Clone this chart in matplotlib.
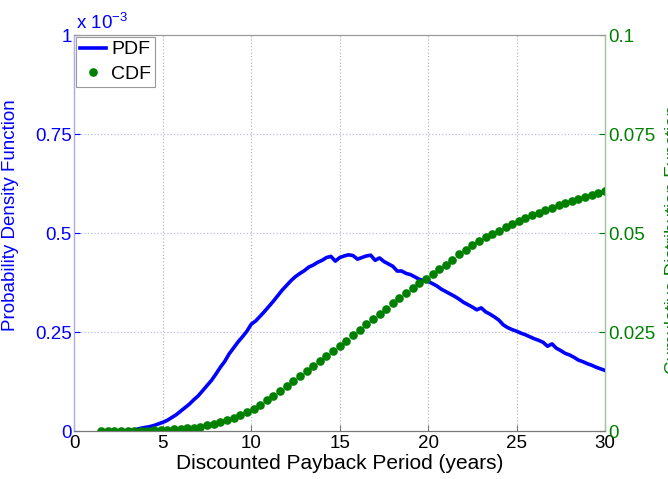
import numpy as np
import matplotlib
matplotlib.use("Agg")
import matplotlib.pyplot as plt

plt.rcParams['font.family'] = ['Liberation Sans', 'DejaVu Sans']
plt.rcParams['mathtext.default'] = 'regular'

# PDF (units of 1e-3), sampled every 0.25 years from 1.5
pdf_start, pdf_step = 1.5, 0.25
pdf = [0, 0, 0, 0, 0, 0, 0.001, 0.002, 0.004, 0.007,
       0.009, 0.011, 0.014, 0.018, 0.022, 0.027, 0.034, 0.041, 0.050, 0.059,
       0.068, 0.079, 0.089, 0.102, 0.115, 0.128, 0.144, 0.161, 0.176, 0.195,
       0.210, 0.225, 0.238, 0.252, 0.270, 0.278, 0.290, 0.302, 0.315, 0.328,
       0.342, 0.356, 0.368, 0.380, 0.390, 0.398, 0.405, 0.414, 0.419, 0.426,
       0.431, 0.438, 0.441, 0.429, 0.438, 0.442, 0.445, 0.443, 0.434, 0.438,
       0.442, 0.444, 0.431, 0.437, 0.428, 0.422, 0.416, 0.404, 0.404, 0.398,
       0.395, 0.389, 0.383, 0.380, 0.378, 0.372, 0.366, 0.358, 0.352, 0.346,
       0.340, 0.333, 0.325, 0.319, 0.313, 0.306, 0.311, 0.301, 0.295, 0.288,
       0.280, 0.268, 0.261, 0.256, 0.252, 0.247, 0.243, 0.238, 0.233, 0.229,
       0.224, 0.214, 0.220, 0.209, 0.203, 0.196, 0.192, 0.186, 0.179, 0.175,
       0.170, 0.166, 0.161, 0.157, 0.153]

# CDF, sampled every 0.375 years from 1.5
cdf_start, cdf_step = 1.5, 0.375
cdf = [0.0000, 0.0000, 0.0000, 0.0000, 0.0000, 0.0001, 0.0001, 0.0001, 0.0002, 0.0003,
       0.0003, 0.0004, 0.0005, 0.0007, 0.0008, 0.0011, 0.0014, 0.0018, 0.0022, 0.0028,
       0.0034, 0.0041, 0.0047, 0.0055, 0.0066, 0.0078, 0.0089, 0.0101, 0.0113, 0.0126,
       0.0139, 0.0152, 0.0165, 0.0178, 0.0190, 0.0202, 0.0215, 0.0228, 0.0242, 0.0256,
       0.0269, 0.0282, 0.0295, 0.0308, 0.0322, 0.0335, 0.0349, 0.0361, 0.0373, 0.0385,
       0.0397, 0.0408, 0.0419, 0.0433, 0.0446, 0.0458, 0.0469, 0.0480, 0.0489, 0.0498,
       0.0506, 0.0514, 0.0522, 0.0530, 0.0538, 0.0545, 0.0551, 0.0557, 0.0564, 0.0570,
       0.0576, 0.0582, 0.0587, 0.0592, 0.0597, 0.0602, 0.0607]

xticks = [0, 5, 10, 15, 20, 25, 30]
lticks = [0, 0.25, 0.5, 0.75, 1]
lticklabels = ['0', '0.25', '0.5', '0.75', '1']
rticks = [0, 0.025, 0.05, 0.075, 0.1]
rticklabels = ['0', '0.025', '0.05', '0.075', '0.1']

x_pdf = pdf_start + pdf_step * np.arange(len(pdf))
x_cdf = cdf_start + cdf_step * np.arange(len(cdf))

blue = '#0000ff'
green = '#008000'
fs = 13.5

fig = plt.figure(figsize=(6.68, 4.79), dpi=100)
ax = fig.add_axes([0.1115, 0.1002, 0.7942, 0.8267])
ax2 = ax.twinx()

l1, = ax.plot(x_pdf, pdf, color=blue, lw=2.6, label='PDF')
l2, = ax2.plot(x_cdf, cdf, 'o', color=green, ms=5.2, mec=green, label='CDF')

ax.set_xlim(0, 30)
ax.set_ylim(0, 1)
ax2.set_ylim(0, 0.1)
ax.set_xticks(xticks)
ax.set_xticklabels([str(t) for t in xticks], fontsize=fs)
ax.set_yticks(lticks)
ax.set_yticklabels(lticklabels, fontsize=fs, color=blue)
ax2.set_yticks(rticks)
ax2.set_yticklabels(rticklabels, fontsize=fs, color=green)

ax.tick_params(axis='x', direction='in', length=4, color='#777777', pad=3)
ax.tick_params(axis='y', direction='in', length=4, color=blue, pad=2)
ax2.tick_params(axis='y', direction='in', length=4, color=green, pad=2)

# grid lines
for xv in xticks[1:-1]:
    ax.axvline(xv, color='#bbbbbb', ls=':', lw=0.9, zorder=0)
for yv in lticks[1:-1]:
    ax.axhline(yv, color='#bbbbff', ls=':', lw=0.9, zorder=0)

for a in (ax, ax2):
    a.spines['top'].set_color('#999999')
    a.spines['bottom'].set_color('#777777')
ax2.spines['left'].set_color('#aaaaff')
ax2.spines['right'].set_color('#99cc99')

ax.set_xlabel('Discounted Payback Period (years)', fontsize=15, labelpad=1)
ax.set_ylabel('Probability Density Function', fontsize=fs, color=blue)
ax.yaxis.set_label_coords(-0.105, 0.545)
fig.text(0.9955, 0.5, 'Cumulative Distribution Function', fontsize=fs, color=green,
         rotation=90, ha='left', va='center')

ax.text(0.003, 1.005, r'x 10$^{-3}$', transform=ax.transAxes, fontsize=fs,
        color=blue, ha='left', va='bottom')

leg = ax2.legend([l1, l2], ['PDF', 'CDF'], loc='upper left', fontsize=14,
                 fancybox=False, framealpha=1, edgecolor='#999999',
                 borderaxespad=0.1, handlelength=1.3, handletextpad=0.3,
                 borderpad=0.2, labelspacing=0.35, numpoints=1)
leg.get_frame().set_linewidth(0.8)

fig.savefig('out.png', dpi=100)
